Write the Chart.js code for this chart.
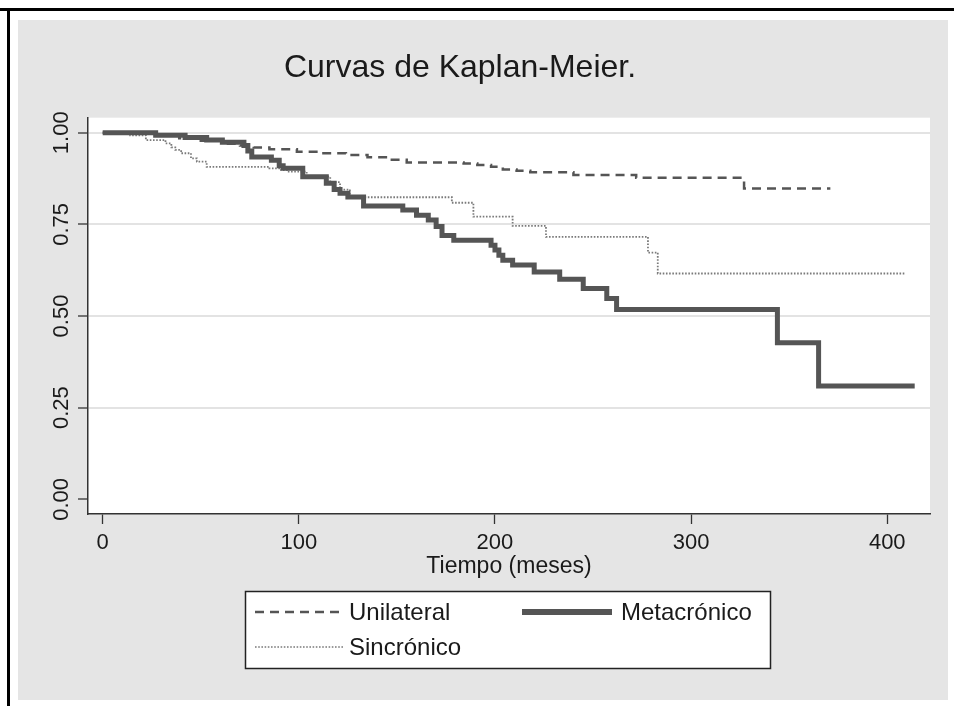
<!DOCTYPE html>
<html lang="es">
<head>
<meta charset="utf-8">
<title>Curvas de Kaplan-Meier</title>
<script src="https://cdn.jsdelivr.net/npm/chart.js@4.4.1/dist/chart.umd.min.js"></script>
<style>
    html, body { margin: 0; padding: 0; background: #fff; }
    #wrap { width: 954px; height: 706px; }
</style>
</head>
<body>
<div id="wrap"><canvas id="kmChart" width="954" height="706"></canvas></div>
<script>
// Textos y datos
const chartTitle = 'Curvas de Kaplan-Meier.';
const xTitle = 'Tiempo (meses)';
const xTicks = [0, 100, 200, 300, 400];
const yTicks = [0, 0.25, 0.5, 0.75, 1];

const unilateralT = [0, 28, 39, 50, 62, 70, 77, 85, 99, 110, 124, 135, 146, 155, 184, 191, 198, 204, 211, 218, 240, 272, 327, 371];
const unilateralS = [1.0, 0.993, 0.985, 0.978, 0.97, 0.965, 0.96, 0.955, 0.948, 0.944, 0.939, 0.933, 0.926, 0.919, 0.916, 0.912, 0.907, 0.90, 0.896, 0.892, 0.885, 0.877, 0.848, 0.848];

const metacronicoT = [0, 27, 42, 53, 61, 72, 74, 76, 86, 90, 92, 102, 114, 118, 121, 125, 133, 153, 160, 166, 170, 173, 179, 198, 200, 202, 204, 209, 220, 233, 245, 257, 262, 344, 365, 414];
const metacronicoS = [1.0, 0.993, 0.987, 0.98, 0.974, 0.965, 0.95, 0.934, 0.925, 0.91, 0.903, 0.88, 0.862, 0.845, 0.835, 0.825, 0.80, 0.789, 0.775, 0.762, 0.744, 0.72, 0.707, 0.693, 0.68, 0.666, 0.652, 0.639, 0.62, 0.60, 0.575, 0.548, 0.518, 0.427, 0.309, 0.309];

const sincronicoT = [0, 14, 22, 32, 35, 37, 40, 45, 48, 53, 85, 91, 94, 104, 116, 121, 126, 178, 189, 209, 226, 278, 283, 409];
const sincronicoS = [1.0, 0.993, 0.98, 0.971, 0.96, 0.953, 0.944, 0.93, 0.921, 0.907, 0.903, 0.898, 0.894, 0.88, 0.865, 0.845, 0.824, 0.809, 0.771, 0.746, 0.716, 0.673, 0.616, 0.616];

function toPoints(t, s) {
    return t.map((v, i) => ({ x: v, y: s[i] }));
}

document.addEventListener('DOMContentLoaded', function() {
    Chart.defaults.font.family = '"Liberation Sans", Arial, sans-serif';
    Chart.defaults.color = '#1a1a1a';

    // Fondo gris con marco negro, área del gráfico en blanco
    const backgroundPlugin = {
        id: 'stataBackground',
        beforeDraw(chart) {
            const ctx = chart.ctx;
            const a = chart.chartArea;
            ctx.save();
            ctx.fillStyle = '#ffffff';
            ctx.fillRect(0, 0, chart.width, chart.height);
            ctx.fillStyle = '#000000';
            ctx.fillRect(0, 8, chart.width, 3);
            ctx.fillRect(7, 8, 3, chart.height - 8);
            ctx.fillStyle = '#e5e5e5';
            ctx.fillRect(18, 20, 930, 680);
            ctx.fillStyle = '#ffffff';
            ctx.fillRect(a.left, a.top, a.right - a.left, a.bottom - a.top);
            ctx.restore();
        }
    };

    // Título y leyenda con recuadro, como en el original
    const legendSlots = [
        { x0: 255, x1: 340, y: 612, tx: 349, w: 2.5 },
        { x0: 522, x1: 612, y: 612, tx: 621, w: 6 },
        { x0: 255, x1: 343, y: 647, tx: 349, w: 1.6 }
    ];
    const titleLegendPlugin = {
        id: 'titleLegend',
        afterDraw(chart) {
            const ctx = chart.ctx;
            ctx.save();
            ctx.fillStyle = '#1a1a1a';
            ctx.font = '32px "Liberation Sans", Arial, sans-serif';
            ctx.textAlign = 'center';
            ctx.textBaseline = 'middle';
            ctx.fillText(chartTitle, 460, 68);

            ctx.fillStyle = '#ffffff';
            ctx.strokeStyle = '#222222';
            ctx.lineWidth = 1.5;
            ctx.fillRect(245.5, 591.5, 525, 77);
            ctx.strokeRect(245.5, 591.5, 525, 77);

            ctx.font = '24px "Liberation Sans", Arial, sans-serif';
            ctx.textAlign = 'left';
            chart.data.datasets.forEach((ds, i) => {
                const slot = legendSlots[i];
                ctx.beginPath();
                ctx.strokeStyle = ds.borderColor;
                ctx.lineWidth = slot.w;
                ctx.setLineDash(ds.borderDash || []);
                ctx.moveTo(slot.x0, slot.y);
                ctx.lineTo(slot.x1, slot.y);
                ctx.stroke();
                ctx.setLineDash([]);
                ctx.fillStyle = '#1a1a1a';
                ctx.fillText(ds.label, slot.tx, slot.y + 1);
            });
            ctx.restore();
        }
    };

    const ctx = document.getElementById('kmChart');
    new Chart(ctx, {
        type: 'line',
        data: {
            datasets: [{
                label: 'Unilateral',
                data: toPoints(unilateralT, unilateralS),
                borderColor: '#555555',
                borderWidth: 2.5,
                borderDash: [9, 6],
                stepped: true,
                pointRadius: 0,
                order: 2
            }, {
                label: 'Metacrónico',
                data: toPoints(metacronicoT, metacronicoS),
                borderColor: '#555555',
                borderWidth: 5,
                stepped: true,
                pointRadius: 0,
                order: 0
            }, {
                label: 'Sincrónico',
                data: toPoints(sincronicoT, sincronicoS),
                borderColor: '#7a7a7a',
                borderWidth: 1.8,
                borderDash: [1.6, 1.6],
                stepped: true,
                pointRadius: 0,
                order: 1
            }]
        },
        options: {
            responsive: false,
            animation: false,
            devicePixelRatio: 1,
            layout: {
                padding: { top: 117.7, left: 18, right: 24, bottom: 123 }
            },
            plugins: {
                legend: { display: false },
                title: { display: false },
                tooltip: { enabled: false }
            },
            scales: {
                x: {
                    type: 'linear',
                    min: -7.5,
                    max: 421.8,
                    afterBuildTicks: function(scale) {
                        scale.ticks = xTicks.map(v => ({ value: v }));
                    },
                    afterFit: function(scale) {
                        scale.height = 69;
                    },
                    ticks: {
                        padding: 6,
                        font: { size: 22 },
                        color: '#1a1a1a',
                        maxRotation: 0,
                        callback: v => String(v)
                    },
                    grid: {
                        drawOnChartArea: false,
                        drawTicks: true,
                        tickLength: 10,
                        tickColor: '#333333',
                        tickWidth: 1.3
                    },
                    border: { display: true, color: '#333333', width: 1.5 },
                    title: {
                        display: true,
                        text: xTitle,
                        font: { size: 23 },
                        color: '#1a1a1a',
                        padding: { top: 0, bottom: 3 }
                    }
                },
                y: {
                    type: 'linear',
                    min: -0.04,
                    max: 1.041,
                    afterBuildTicks: function(scale) {
                        scale.ticks = yTicks.map(v => ({ value: v }));
                    },
                    afterFit: function(scale) {
                        scale.width = 70;
                    },
                    ticks: {
                        minRotation: 90,
                        maxRotation: 90,
                        crossAlign: 'center',
                        padding: -5,
                        font: { size: 22 },
                        color: '#1a1a1a',
                        callback: v => Number(v).toFixed(2)
                    },
                    grid: {
                        color: c => (c.tick && c.tick.value === 0) ? 'rgba(0,0,0,0)' : '#e3e3e3',
                        lineWidth: 2,
                        drawTicks: true,
                        tickLength: 10,
                        tickColor: '#333333',
                        tickWidth: 1.3
                    },
                    border: { display: true, color: '#333333', width: 1.5 }
                }
            }
        },
        plugins: [backgroundPlugin, titleLegendPlugin]
    });
});
</script>
</body>
</html>
